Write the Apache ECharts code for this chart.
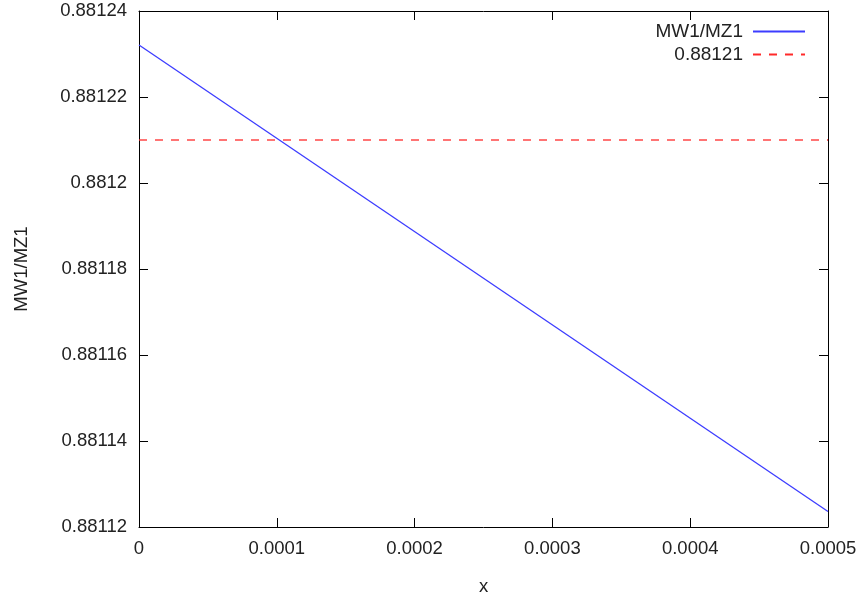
<!DOCTYPE html>
<html lang="en">
<head>
    <meta charset="UTF-8">
    <title>MW1/MZ1</title>
    <script src="https://cdn.jsdelivr.net/npm/echarts@6/dist/echarts.min.js"></script>
    <style>
        html, body { margin: 0; padding: 0; background: #ffffff; }
        #chart { width: 863px; height: 601px; }
    </style>
</head>
<body>
    <div id="chart"></div>
    <script>
        // data
        var xValues = [0, 0.0005];
        var ratioValues = [0.8812321, 0.8811236];
        var refLevel = 0.88121;
        var refLabel = '0.88121';

        var yMin = 0.88112, yMax = 0.88124, yStep = 0.00002;
        var xMin = 0, xMax = 0.0005, xStep = 0.0001;

        var fontFam = '"Liberation Sans", Arial, sans-serif';
        var textColor = '#222222';
        var fs = 18.5;

        function fmt(v) {
            return String(parseFloat(Number(v).toPrecision(6)));
        }

        var chart = echarts.init(document.getElementById('chart'));

        var tickCommon = {
            axisLine: { show: true, onZero: false, lineStyle: { color: '#000', width: 1 } },
            axisTick: { show: true, inside: true, length: 9, lineStyle: { color: '#000', width: 1 } },
            splitLine: { show: false }
        };

        chart.setOption({
            animation: false,
            textStyle: { fontFamily: fontFam },
            grid: { left: 139, right: 35, top: 11, bottom: 73, containLabel: false },
            legend: {
                orient: 'vertical',
                right: 52,
                top: 17,
                align: 'right',
                itemWidth: 52,
                itemHeight: 14,
                itemGap: 4,
                itemStyle: { opacity: 0 },
                textStyle: { fontSize: 19, color: textColor, fontFamily: fontFam, padding: [0, 5, 0, 0] },
                data: ['MW1/MZ1', refLabel]
            },
            xAxis: [
                Object.assign({
                    type: 'value', min: xMin, max: xMax, interval: xStep,
                    position: 'bottom',
                    name: 'x', nameLocation: 'middle', nameGap: 50,
                    nameTextStyle: { fontSize: fs, color: textColor, fontFamily: fontFam },
                    axisLabel: { color: textColor, fontSize: fs, margin: 12, formatter: fmt, fontFamily: fontFam }
                }, tickCommon),
                Object.assign({
                    type: 'value', min: xMin, max: xMax, interval: xStep,
                    position: 'top',
                    axisLabel: { show: false }
                }, tickCommon)
            ],
            yAxis: [
                Object.assign({
                    type: 'value', min: yMin, max: yMax, interval: yStep,
                    position: 'left',
                    name: 'MW1/MZ1', nameLocation: 'middle', nameGap: 108, nameRotate: 90,
                    nameTextStyle: { fontSize: fs, color: textColor, fontFamily: fontFam },
                    axisLabel: { color: textColor, fontSize: fs, margin: 12, formatter: fmt, fontFamily: fontFam }
                }, tickCommon),
                Object.assign({
                    type: 'value', min: yMin, max: yMax, interval: yStep,
                    position: 'right',
                    axisLabel: { show: false }
                }, tickCommon)
            ],
            series: [
                {
                    name: 'MW1/MZ1',
                    type: 'line',
                    xAxisIndex: 0,
                    yAxisIndex: 0,
                    data: xValues.map(function (x, i) { return [x, ratioValues[i]]; }),
                    symbol: 'none',
                    itemStyle: { color: '#3c3cff' },
                    lineStyle: { color: '#3c3cff', width: 1.3 }
                },
                {
                    name: refLabel,
                    type: 'line',
                    xAxisIndex: 0,
                    yAxisIndex: 0,
                    data: xValues.map(function (x) { return [x, refLevel]; }),
                    symbol: 'none',
                    itemStyle: { color: '#ff2a2a' },
                    lineStyle: { color: '#ff2a2a', width: 1.3, type: [8, 8] }
                }
            ]
        });
    </script>
</body>
</html>
